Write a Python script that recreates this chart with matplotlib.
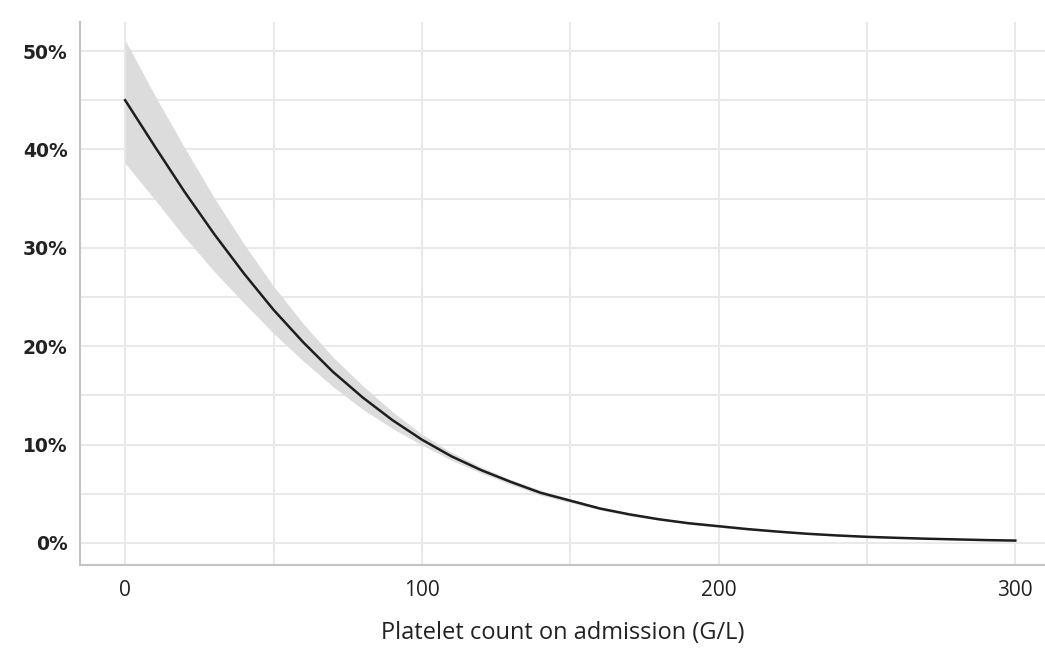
import matplotlib
matplotlib.use("Agg")
import matplotlib.pyplot as plt
from matplotlib.ticker import MultipleLocator, FuncFormatter

# Values (risk in %)
platelets = [0, 10, 20, 30, 40, 50, 60, 70, 80, 90, 100, 110, 120, 130, 140, 150,
             160, 170, 180, 190, 200, 210, 220, 230, 240, 250, 260, 270, 280, 290, 300]
risk = [45.0, 40.3, 35.7, 31.4, 27.4, 23.7, 20.4, 17.4, 14.8, 12.5, 10.5, 8.8, 7.4, 6.2,
        5.1, 4.3, 3.5, 2.9, 2.4, 2.0, 1.7, 1.4, 1.15, 0.93, 0.76, 0.62, 0.52, 0.43, 0.36,
        0.29, 0.24]
risk_upper = [51.1, 45.5, 40.2, 35.1, 30.4, 26.1, 22.3, 18.9, 16.0, 13.35, 11.05, 9.2, 7.7,
              6.45, 5.35, 4.5, 3.65, 3.05, 2.5, 2.1, 1.8, 1.5, 1.22, 1.0, 0.82, 0.68, 0.57,
              0.47, 0.4, 0.33, 0.28]
risk_lower = [38.6, 34.9, 31.1, 27.6, 24.4, 21.3, 18.5, 15.9, 13.6, 11.65, 9.95, 8.4, 7.1,
              5.95, 4.85, 4.1, 3.35, 2.75, 2.3, 1.9, 1.6, 1.3, 1.08, 0.86, 0.7, 0.56, 0.47,
              0.39, 0.32, 0.25, 0.2]

grid_color = '#e9e9e9'
spine_color = '#c4c4c4'

fig = plt.figure(figsize=(10.45, 6.53), dpi=100)
ax = fig.add_axes([0.0766, 0.1348, 0.9234, 0.8315])

ax.fill_between(platelets, risk_lower, risk_upper, color='#dcdcdc', linewidth=0, zorder=2)
ax.plot(platelets, risk, color='#1e1e1e', linewidth=1.8, zorder=3)

ax.set_xlim(-15.2, 310)
ax.set_ylim(-2.24, 52.95)

ax.xaxis.set_major_locator(MultipleLocator(100))
ax.xaxis.set_minor_locator(MultipleLocator(50))
ax.yaxis.set_major_locator(MultipleLocator(10))
ax.yaxis.set_minor_locator(MultipleLocator(5))
ax.yaxis.set_major_formatter(FuncFormatter(lambda v, pos: f"{v:.0f}%"))

ax.grid(True, which='both', color=grid_color, linewidth=1.5, zorder=0)
ax.set_axisbelow(True)

for side in ['top', 'right']:
    ax.spines[side].set_visible(False)
for side in ['left', 'bottom']:
    ax.spines[side].set_color(spine_color)
    ax.spines[side].set_linewidth(1.5)

ax.tick_params(axis='both', which='both', length=0)
ax.tick_params(axis='y', pad=9)
ax.tick_params(axis='x', pad=11)

for lbl in ax.get_yticklabels():
    lbl.set_fontfamily('DejaVu Sans')
    lbl.set_fontweight('bold')
    lbl.set_fontsize(13.5)
    lbl.set_color('#222222')
for lbl in ax.get_xticklabels():
    lbl.set_fontfamily('Open Sans')
    lbl.set_fontsize(15)
    lbl.set_color('#222222')

ax.set_xlabel('Platelet count on admission (G/L)', fontfamily='Open Sans',
              fontsize=17, color='#222222', labelpad=14)

fig.savefig('out.png', dpi=100)
